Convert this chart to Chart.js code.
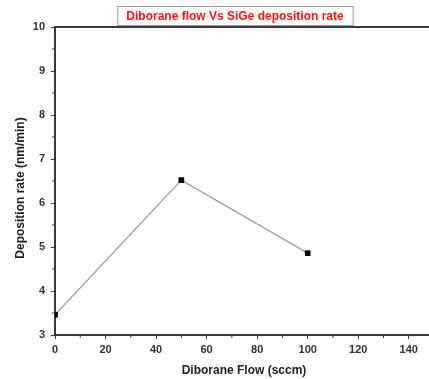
<!DOCTYPE html>
<html>
<head>
<meta charset="utf-8">
<script src="https://cdn.jsdelivr.net/npm/chart.js@4"></script>
<style>
  html, body { margin: 0; padding: 0; background: #fff; }
  #wrap { width: 429px; height: 379px; }
</style>
</head>
<body>
<div id="wrap"><canvas id="chart" width="429" height="379"></canvas></div>
<script>
const flow = [0, 50, 100];
const rate = [3.46, 6.52, 4.86];
const xTicks = [0, 20, 40, 60, 80, 100, 120, 140];
const yTicks = [3, 4, 5, 6, 7, 8, 9, 10];
const chartTitle = 'Diborane flow Vs SiGe deposition rate';
const xTitle = 'Diborane Flow (sccm)';
const yTitle = 'Deposition rate (nm/min)';

const AXIS = '#3a3a3a';
const FONT = '"Liberation Sans", Arial, sans-serif';

// title box, axis titles and minor ticks
const decor = {
  id: 'decor',
  afterDraw(chart) {
    const ctx = chart.ctx;
    const xs = chart.scales.x, ys = chart.scales.y;
    const a = chart.chartArea;
    ctx.save();

    // top frame line
    ctx.strokeStyle = AXIS;
    ctx.lineWidth = 2;
    ctx.beginPath();
    ctx.moveTo(a.left, a.top);
    ctx.lineTo(a.right, a.top);
    ctx.stroke();

    // minor ticks
    ctx.lineWidth = 1;
    ctx.beginPath();
    for (let i = 0; i < xTicks.length; i++) {
      const px = xs.getPixelForValue(xTicks[i] + 10);
      if (px > a.right) break;
      ctx.moveTo(px, a.bottom);
      ctx.lineTo(px, a.bottom + 3);
    }
    for (let i = 0; i < yTicks.length - 1; i++) {
      const py = ys.getPixelForValue(yTicks[i] + 0.5);
      ctx.moveTo(a.left, py);
      ctx.lineTo(a.left - 3, py);
    }
    ctx.stroke();

    // title box
    ctx.font = 'bold 12px ' + FONT;
    const tw = ctx.measureText(chartTitle).width;
    const cx = 235;
    ctx.fillStyle = '#fff';
    ctx.fillRect(cx - tw / 2 - 9, 6, tw + 18, 20);
    ctx.strokeStyle = '#999';
    ctx.lineWidth = 1;
    ctx.strokeRect(cx - tw / 2 - 9 + 0.5, 6.5, tw + 18, 19);
    ctx.fillStyle = '#ff1010';
    ctx.textAlign = 'center';
    ctx.textBaseline = 'middle';
    ctx.fillText(chartTitle, cx, 16.5);

    // axis titles
    ctx.fillStyle = '#222';
    ctx.font = 'bold 12px ' + FONT;
    ctx.fillText(xTitle, 244, 371);
    ctx.translate(21, 188);
    ctx.rotate(-Math.PI / 2);
    ctx.fillText(yTitle, 0, 0);
    ctx.restore();
  }
};

new Chart(document.getElementById('chart'), {
  type: 'scatter',
  data: {
    datasets: [{
      data: flow.map((x, i) => ({ x: x, y: rate[i] })),
      showLine: true,
      borderColor: '#a0a0a0',
      borderWidth: 1.3,
      backgroundColor: '#000',
      pointStyle: 'rect',
      pointRadius: 4,
      pointBorderColor: '#000',
      pointBorderWidth: 0
    }]
  },
  options: {
    responsive: false,
    animation: false,
    layout: { autoPadding: false, padding: { top: 27, right: 0, left: 0, bottom: 0 } },
    plugins: { legend: { display: false }, tooltip: { enabled: false } },
    scales: {
      x: {
        type: 'linear',
        min: 0,
        max: 148,
        afterBuildTicks: s => { s.ticks = xTicks.map(v => ({ value: v })); },
        afterFit: s => { s.height = 44; },
        grid: { drawOnChartArea: false, drawTicks: true, tickLength: 4, tickColor: AXIS, tickWidth: 1 },
        border: { display: true, color: AXIS, width: 2 },
        ticks: { color: '#333', font: { size: 11, family: FONT, weight: 'bold' }, padding: 4, maxRotation: 0 }
      },
      y: {
        min: 3,
        max: 10,
        afterBuildTicks: s => { s.ticks = yTicks.map(v => ({ value: v })); },
        afterFit: s => { s.width = 55; },
        grid: { drawOnChartArea: false, drawTicks: true, tickLength: 4, tickColor: AXIS, tickWidth: 1 },
        border: { display: true, color: AXIS, width: 2 },
        ticks: { color: '#333', font: { size: 11, family: FONT, weight: 'bold' }, padding: 6 }
      }
    }
  },
  plugins: [decor]
});
</script>
</body>
</html>
